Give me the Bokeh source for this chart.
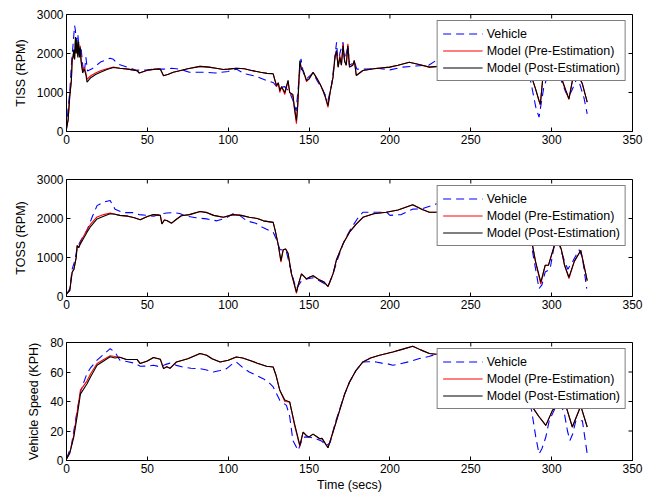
from bokeh.plotting import figure
from bokeh.layouts import column
from bokeh.models import Range1d, FixedTicker, Legend, LegendItem
from bokeh.embed import file_html
from bokeh.resources import INLINE

FONT = "Liberation Sans"

x_ticks = [0, 50, 100, 150, 200, 250, 300, 350]
rpm_ticks = [0, 1000, 2000, 3000]
kph_ticks = [0, 20, 40, 60, 80]
legend_labels = ["Vehicle", "Model (Pre-Estimation)", "Model (Post-Estimation)"]

# ---------------- TISS ----------------
tiss_t_model = [0, 1, 2, 3, 3.5, 4, 4.5, 5, 5.5, 6, 6.5, 7, 7.5, 8, 8.5, 9, 10, 11, 12, 12.7,
                15, 18, 21, 25, 29, 33, 38, 43.6, 45, 50, 55, 58, 60, 63, 66, 70, 75, 82.6, 88,
                92.5, 97, 100, 105, 110, 115, 120, 124, 127.8, 129, 129.9, 131, 131.9, 133, 135,
                137, 138, 140, 141, 142.2, 143, 144.3, 145.3, 146.5, 148.4, 150, 152.5, 155, 157,
                158.6, 160, 161.7, 163, 164.8, 166, 166.9, 168, 169, 170, 171, 172, 173, 174, 175,
                177, 178, 179.2, 183.3, 190, 199.8, 205, 212, 218, 224.4, 230, 240, 250, 260, 270,
                280, 286, 288, 290, 292.2, 293, 294.6, 297, 300, 303, 306.6, 308.8, 310.7, 312.8,
                315, 317, 319, 322]
tiss_post = [80, 300, 900, 1300, 1860, 1900, 2100, 1850, 2420, 2000, 2350, 1900, 2300, 1900, 2150,
             1800, 1500, 1600, 1450, 1265, 1380, 1460, 1520, 1590, 1640, 1620, 1600, 1560, 1500,
             1570, 1600, 1600, 1430, 1470, 1520, 1560, 1610, 1670, 1650, 1620, 1590, 1600, 1620,
             1610, 1560, 1520, 1490, 1480, 1300, 1180, 1250, 1050, 1150, 1000, 1310, 1000, 950,
             600, 280, 700, 1820, 1600, 1550, 1310, 1350, 1520, 1350, 1200, 1050, 900, 667, 1000,
             1390, 1900, 2077, 1650, 1900, 1700, 2205, 1800, 1700, 2200, 1650, 1700, 1820, 1436,
             1564, 1610, 1650, 1700, 1777, 1720, 1650, 1670, 1700, 1750, 1700, 1650, 1500, 1500,
             1350, 1100, 795, 700, 1400, 1500, 1600, 1500, 1308, 1050, 838, 1300, 1500, 1400,
             1222, 751]
tiss_pre = [80, 300, 900, 1300, 1800, 1900, 2050, 1850, 2300, 2000, 2300, 1950, 2250, 1950, 2200,
            1850, 1550, 1650, 1500, 1340, 1430, 1500, 1560, 1610, 1650, 1620, 1600, 1560, 1500,
            1570, 1600, 1600, 1430, 1470, 1520, 1560, 1610, 1670, 1650, 1620, 1590, 1600, 1620,
            1610, 1560, 1520, 1490, 1480, 1300, 1150, 1250, 1000, 1150, 950, 1300, 1000, 900,
            550, 200, 650, 1750, 1600, 1550, 1280, 1350, 1520, 1350, 1200, 1050, 880, 620, 1000,
            1390, 1900, 2077, 1650, 1950, 1700, 2250, 1800, 1700, 2250, 1650, 1700, 1820, 1436,
            1564, 1610, 1650, 1700, 1777, 1720, 1650, 1670, 1700, 1750, 1700, 1650, 1500, 1500,
            1350, 1100, 780, 680, 1400, 1500, 1600, 1500, 1300, 1030, 820, 1300, 1500, 1400,
            1222, 751]
tiss_t_vehicle = [0, 1, 2, 3, 4, 5, 5.5, 6, 7, 8, 9, 10, 11, 12, 13, 15.8, 21, 27, 29, 31.5, 37.7,
                  43, 50, 55, 60, 65, 70, 76, 85, 92, 100, 105, 110, 117, 123.7, 128, 130, 132, 135,
                  138, 140, 142, 143, 145, 146.5, 148.4, 152.5, 155, 158, 161.7, 164, 167, 168, 169,
                  171, 172, 174, 175, 177, 178, 179.5, 185, 192, 200, 208, 216, 224, 228.5, 235,
                  245, 260, 275, 284, 287, 290.2, 292.2, 295, 298, 302, 306, 308.8, 310.7, 313, 316,
                  320, 322]
tiss_vehicle = [50, 600, 1000, 1700, 2200, 2718, 2600, 2300, 2500, 2000, 2150, 1700, 1500, 1900,
                1550, 1607, 1780, 1880, 1850, 1735, 1650, 1570, 1580, 1600, 1600, 1620, 1600, 1520,
                1520, 1500, 1540, 1600, 1480, 1420, 1308, 1250, 1150, 1130, 1150, 1000, 800, 530,
                1000, 1860, 1500, 1350, 1500, 1300, 1100, 800, 1200, 2290, 1700, 2000, 2290, 1800,
                2200, 1700, 1750, 1800, 1600, 1600, 1620, 1580, 1650, 1680, 1700, 1820, 1900, 1800,
                1750, 1600, 1500, 1300, 623, 367, 1100, 1500, 1600, 1300, 1000, 900, 1100, 1400,
                860, 454]

# ---------------- TOSS ----------------
toss_t_model = [0, 2, 3.5, 4.6, 6, 6.6, 7.5, 8.6, 10, 12.7, 15, 18.9, 23, 27, 30, 33, 38, 42, 45.6,
                50, 53.8, 58, 59, 60.5, 62, 65, 68, 71, 76, 82.6, 87, 91, 97, 103, 108, 113, 118,
                121.8, 127.8, 129, 131, 132.6, 134, 135.5, 137, 139, 141, 142.2, 143, 145.3, 148.4,
                150.5, 152.5, 156.6, 159, 161.7, 164.8, 167, 171, 175, 179, 183.3, 190, 197.7, 205,
                214.1, 220, 224.4, 228.5, 235, 250, 265, 280, 286, 288, 290, 293.3, 296, 298, 302,
                304, 306, 308, 310.7, 314, 318, 322]
toss_post = [69, 150, 623, 700, 1000, 1308, 1250, 1350, 1450, 1650, 1800, 1990, 2060, 2120, 2110,
             2080, 2060, 2020, 1970, 2050, 2100, 2080, 1860, 1960, 1950, 1880, 1980, 2070, 2100,
             2180, 2150, 2080, 2030, 2100, 2080, 2030, 2000, 1940, 1900, 1700, 1308, 920, 1200,
             1220, 1110, 600, 300, 110, 250, 580, 450, 500, 530, 420, 380, 260, 580, 950, 1350,
             1650, 1850, 2030, 2120, 2160, 2220, 2350, 2230, 2160, 2160, 2200, 2250, 2150, 1900,
             1700, 1350, 900, 370, 800, 800, 1350, 1450, 1200, 800, 495, 900, 1180, 410]
toss_pre = [69, 150, 623, 700, 1000, 1308, 1250, 1380, 1500, 1710, 1860, 2040, 2100, 2140, 2110,
            2080, 2060, 2020, 1970, 2050, 2100, 2080, 1860, 1960, 1950, 1880, 1980, 2070, 2100,
            2180, 2150, 2080, 2030, 2100, 2080, 2030, 2000, 1940, 1900, 1700, 1308, 880, 1200,
            1220, 1110, 600, 280, 80, 250, 580, 450, 500, 530, 420, 380, 250, 580, 950, 1350,
            1650, 1850, 2030, 2120, 2160, 2220, 2350, 2230, 2160, 2160, 2200, 2250, 2150, 1900,
            1700, 1350, 900, 320, 800, 800, 1350, 1450, 1200, 800, 460, 900, 1180, 410]
toss_t_vehicle = [0, 2, 3.5, 5, 6.6, 9, 12.7, 16, 18.9, 23, 27, 30, 35, 41, 45, 49.6, 54, 58, 62,
                  66, 70, 74, 80, 86.7, 93, 98, 103, 107, 111.5, 117, 121.8, 127.8, 130, 132, 134,
                  136, 138, 140.9, 142.2, 145.3, 148.4, 152.5, 156.6, 160, 162, 165, 168, 172, 176,
                  180, 183.3, 190, 198, 200, 207, 214, 220, 228.5, 235, 250, 265, 280, 288, 292.2,
                  294, 296, 299, 302, 305, 308, 310, 313, 317, 319, 321.7]
toss_vehicle = [50, 200, 700, 900, 1250, 1450, 1700, 2050, 2330, 2420, 2460, 2240, 2150, 2150, 2100,
                2080, 2060, 2120, 2140, 2150, 2130, 2060, 2020, 1990, 1940, 2000, 2120, 2080, 1940,
                1880, 1760, 1650, 1450, 1200, 1200, 1150, 800, 350, 200, 400, 450, 480, 400, 320,
                280, 600, 1000, 1450, 1750, 2000, 2160, 2160, 2160, 2080, 2100, 2240, 2250, 2370,
                2400, 2300, 2200, 1800, 1200, 200, 300, 630, 700, 1400, 1300, 900, 700, 900, 1200,
                1000, 200]

# ---------------- Vehicle speed ----------------
spd_t_model = [0, 2, 4.5, 6.6, 8.6, 12.7, 15, 18.9, 23, 27, 30, 33, 37, 43.6, 45.6, 50, 53.8, 58, 60,
               62, 64, 68, 75, 82.6, 86.7, 90, 95, 100, 105, 109, 113, 118, 123.7, 127.8, 129.5,
               131.9, 135, 138, 141, 144.3, 146.3, 148.4, 150, 152.5, 156.6, 158, 161.7, 165, 168.9,
               172, 175, 179, 183.3, 188, 193.6, 201.8, 208, 214.1, 219, 224.4, 228.5, 235, 250,
               265, 280, 287.6, 292, 296.4, 300.5, 304, 308.7, 312.8, 318, 322]
spd_post = [1, 5, 15.8, 30, 45, 52, 57, 64.6, 67.5, 70.3, 69.5, 70, 68.5, 68.5, 65.7, 67.5, 69.8,
            68.7, 62.3, 63.5, 62.5, 66.8, 69, 72.5, 71.4, 69, 66.8, 68, 70.2, 69.5, 68, 66, 63.9,
            63.4, 58, 47.6, 41, 39.7, 25, 10.2, 19.2, 16.8, 16, 17.9, 14.7, 15, 8.6, 20, 34, 45,
            53.2, 61, 66.8, 69.5, 71.4, 73.6, 75.5, 77.5, 75, 72.5, 72, 73, 74, 72, 60, 37, 30,
            23.8, 34, 38, 37.4, 22.7, 37, 22.7]
spd_pre = [1, 5, 17, 33, 47.5, 54, 59, 65.8, 68.5, 71, 70.5, 70, 68.5, 68.5, 65.7, 67.5, 69.8,
           68.7, 62.3, 63.5, 62.5, 66.8, 69, 72.5, 71.4, 69, 66.8, 68, 70.2, 69.5, 68, 66, 63.9,
           63.4, 58, 47.6, 40, 39.7, 24, 9.5, 19.2, 16.8, 16, 17.9, 14.7, 15, 8.6, 20, 34, 45,
           53.2, 61, 66.8, 69.5, 71.4, 73.6, 75.5, 77.5, 75, 72.5, 72, 73, 74, 72, 60, 37, 30,
           23.8, 34, 38, 37.4, 22.7, 37, 22.7]
spd_t_vehicle = [0, 3, 6.6, 9, 12.7, 15, 18.9, 23, 27, 30, 33, 38, 42, 45.6, 50, 53.8, 58, 61, 64,
                 68, 72, 77, 82.6, 86, 90.8, 95, 99, 102, 105, 109, 113, 117, 121.6, 125, 127.8,
                 131.9, 136, 138, 140, 143.2, 146.3, 150, 154.6, 158, 160.7, 163, 166, 169, 172,
                 175, 179, 183.3, 187, 191.5, 195, 198, 201.8, 206, 212, 218.3, 224, 228.5, 235,
                 250, 265, 280, 287.6, 290.2, 292.2, 294, 296.4, 298.5, 302, 305, 307.7, 309.8,
                 311.3, 313, 315, 319, 322]
spd_vehicle = [1.2, 10, 34, 48, 59, 63, 68, 72, 75.8, 73.5, 68, 67, 66, 63.9, 64, 64.6, 63.4, 65,
               66, 64.5, 63.4, 62.5, 62.3, 61.5, 60, 61, 62.3, 65, 66.8, 63, 60, 58, 55.5, 53,
               49.9, 40.8, 37.4, 30, 13.6, 6.8, 15.8, 16, 14.7, 13, 10, 12, 25, 35, 45, 53, 61,
               66.8, 67, 66.8, 66, 65.7, 64.6, 65.5, 67, 69.1, 70.5, 72, 74, 73, 70, 55, 34, 15.9,
               4.5, 8, 15.9, 27, 35, 38, 33, 20, 13.6, 18, 27, 27, 4.5]

XMAX = 350
COLORS = ["#0000ff", "#ff0000", "#000000"]


def style_axis(ax, ticks):
    ax.ticker = FixedTicker(ticks=ticks)
    ax.major_tick_in = 4
    ax.major_tick_out = 0
    ax.minor_tick_line_color = None
    ax.axis_line_color = "black"
    ax.major_tick_line_color = "black"
    ax.major_label_text_font = FONT
    ax.major_label_text_color = "black"
    ax.major_label_text_font_size = "12px"
    ax.major_label_standoff = 3
    ax.axis_label_text_font = FONT
    ax.axis_label_text_font_style = "normal"
    ax.axis_label_text_color = "black"
    ax.axis_label_text_font_size = "12.5px"


def make_panel(tv, vv, tm, pre, post, ymax, yticks, ylabel, top, bottom, frame_h, xlabel=None):
    p = figure(width=652, height=165, output_backend="svg", toolbar_location=None,
               x_range=Range1d(0, XMAX), y_range=Range1d(0, ymax),
               min_border_left=66, min_border_right=20, min_border_top=top,
               min_border_bottom=bottom)
    p.xgrid.visible = False
    p.ygrid.visible = False
    p.outline_line_color = "black"
    p.outline_line_alpha = 1
    p.background_fill_color = "white"
    p.border_fill_color = "white"

    style_axis(p.xaxis[0], x_ticks)
    style_axis(p.yaxis[0], yticks)
    p.yaxis[0].axis_label = ylabel
    p.yaxis[0].axis_label_standoff = 6
    if xlabel:
        p.xaxis[0].axis_label = xlabel
        p.xaxis[0].axis_label_standoff = 2

    r_v = p.line(tv, vv, line_color=COLORS[0], line_width=1.1, line_dash="8 5")
    r_pre = p.line(tm, pre, line_color=COLORS[1], line_width=1.1)
    r_post = p.line(tm, post, line_color=COLORS[2], line_width=1.1)

    # mirrored inward tick marks on the top and right edges (4 px long)
    dy = ymax * 4.0 / frame_h
    dx = XMAX * 4.0 / 566.0
    p.segment(x0=x_ticks, y0=[ymax] * len(x_ticks), x1=x_ticks,
              y1=[ymax - dy] * len(x_ticks), line_color="black", line_width=1)
    p.segment(x0=[XMAX] * len(yticks), y0=yticks, x1=[XMAX - dx] * len(yticks),
              y1=yticks, line_color="black", line_width=1)

    leg = Legend(items=[LegendItem(label=legend_labels[0], renderers=[r_v]),
                        LegendItem(label=legend_labels[1], renderers=[r_pre]),
                        LegendItem(label=legend_labels[2], renderers=[r_post])],
                 location="top_right")
    leg.margin = 6
    leg.padding = 5
    leg.spacing = 2
    leg.label_height = 15
    leg.glyph_height = 15
    leg.glyph_width = 40
    leg.label_standoff = 4
    leg.label_text_font = FONT
    leg.label_text_font_size = "12.5px"
    leg.label_text_color = "black"
    leg.border_line_color = "black"
    leg.border_line_width = 1
    leg.background_fill_color = "white"
    leg.background_fill_alpha = 1
    p.add_layout(leg)
    return p


p1 = make_panel(tiss_t_vehicle, tiss_vehicle, tiss_t_model, tiss_pre, tiss_post,
                3000, rpm_ticks, "TISS (RPM)", 14, 34, 117)
p2 = make_panel(toss_t_vehicle, toss_vehicle, toss_t_model, toss_pre, toss_post,
                3000, rpm_ticks, "TOSS (RPM)", 14, 34, 117)
p3 = make_panel(spd_t_vehicle, spd_vehicle, spd_t_model, spd_pre, spd_post,
                80, kph_ticks, "Vehicle Speed (KPH)", 12, 35, 118, xlabel="Time (secs)")

layout = column(p1, p2, p3, spacing=0)
open("out.html", "w").write(file_html(layout, INLINE))
